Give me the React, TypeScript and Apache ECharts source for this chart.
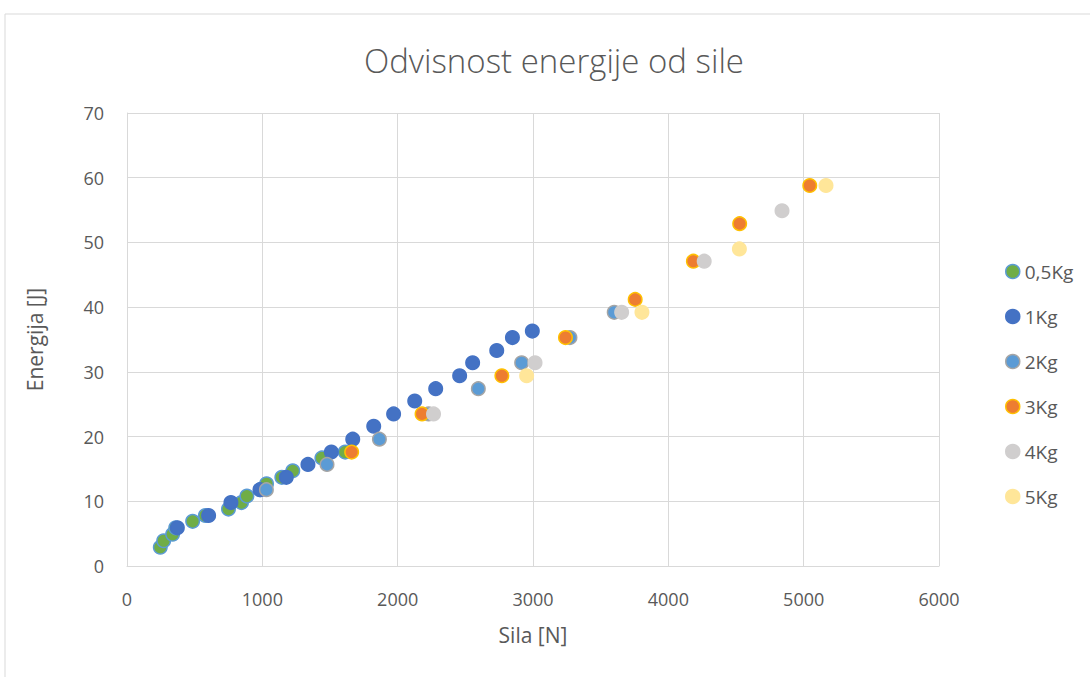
import React, { useEffect, useRef } from "react";
import * as echarts from "echarts";

const seriesNames = ["0,5Kg", "1Kg", "2Kg", "3Kg", "4Kg", "5Kg"];

const force05 = [246, 271, 337, 360, 485, 579, 750, 846, 886, 985, 1031, 1144, 1225, 1440, 1612];
const energy05 = [2.9, 3.9, 4.9, 5.9, 6.9, 7.8, 8.8, 9.8, 10.8, 11.8, 12.7, 13.7, 14.7, 16.7, 17.6];

const force1 = [372, 603, 768, 983, 1177, 1337, 1510, 1668, 1823, 1970, 2126, 2281, 2458, 2554, 2732, 2848, 2995];
const energy1 = [5.9, 7.8, 9.8, 11.8, 13.7, 15.7, 17.6, 19.6, 21.6, 23.5, 25.5, 27.4, 29.4, 31.4, 33.3, 35.3, 36.3];

const force2 = [1030, 1478, 1865, 2228, 2596, 2916, 3273, 3600];
const energy2 = [11.8, 15.7, 19.6, 23.5, 27.4, 31.4, 35.3, 39.2];

const force3 = [1660, 2180, 2770, 3240, 3755, 4185, 4527, 5045];
const energy3 = [17.6, 23.5, 29.4, 35.3, 41.2, 47.1, 52.9, 58.8];

const force4 = [2265, 3015, 3655, 4265, 4840];
const energy4 = [23.5, 31.4, 39.2, 47.1, 54.9];

const force5 = [2953, 3805, 4525, 5165];
const energy5 = [29.4, 39.2, 49.0, 58.8];

const allForces = [force05, force1, force2, force3, force4, force5];
const allEnergies = [energy05, energy1, energy2, energy3, energy4, energy5];

const fills = ["#70AD47", "#4472C4", "#5B9BD5", "#ED7D31", "#D0CECE", "#FFE699"];
const borders = ["#5B9BD5", "#4472C4", "#A5A5A5", "#FFC000", "#D0CECE", "#FFE699"];

const FONT = "'Open Sans', sans-serif";
const TEXT = "#595959";

export default function App() {
  const ref = useRef<HTMLDivElement>(null);
  useEffect(() => {
    document.body.style.margin = "0";
    const chart = echarts.init(ref.current!, null, { renderer: "svg" });
    const series = seriesNames.map((name, i) => ({
      name,
      type: "scatter",
      symbol: "circle",
      symbolSize: 13.5,
      data: allForces[i].map((f, j) => [f, allEnergies[i][j]]),
      itemStyle: { color: fills[i], borderColor: borders[i], borderWidth: 1.5, opacity: 1 },
    }));
    chart.setOption({
      animation: false,
      backgroundColor: "#fff",
      textStyle: { fontFamily: FONT },
      graphic: [
        {
          type: "rect",
          shape: { x: 5, y: 14, width: 1200, height: 800 },
          style: { fill: "none", stroke: "#D9D9D9", lineWidth: 1 },
          silent: true,
          z: -10,
        },
        {
          type: "text",
          x: 554,
          y: 60,
          style: {
            text: "Odvisnost energije od sile",
            fontFamily: FONT,
            fontSize: 33,
            fontWeight: 300,
            fill: TEXT,
            textAlign: "center",
            textVerticalAlign: "middle",
          },
          silent: true,
        },
      ],
      legend: {
        orient: "vertical",
        left: 1000,
        top: 257,
        itemWidth: 14,
        itemHeight: 14,
        itemGap: 26,
        icon: "circle",
        textStyle: { fontFamily: FONT, fontSize: 19, lineHeight: 19, color: TEXT },
        data: seriesNames.map((n, i) => ({
          name: n,
          itemStyle: { color: fills[i], borderColor: borders[i], borderWidth: 1.5 },
        })),
      },
      grid: { left: 127, right: 151, top: 113, bottom: 111, containLabel: false },
      xAxis: {
        type: "value",
        min: 0,
        max: 6000,
        interval: 1000,
        name: "Sila [N]",
        nameLocation: "middle",
        nameGap: 58,
        nameTextStyle: { fontFamily: FONT, fontSize: 21, color: TEXT },
        axisLine: { show: true, lineStyle: { color: "#D9D9D9", width: 1 } },
        axisTick: { show: false },
        axisLabel: { fontFamily: FONT, fontSize: 18, color: TEXT, margin: 24, formatter: (v: number) => String(v) },
        splitLine: { show: true, lineStyle: { color: "#D9D9D9", width: 1 } },
      },
      yAxis: {
        type: "value",
        min: 0,
        max: 70,
        interval: 10,
        name: "Energija [J]",
        nameLocation: "middle",
        nameRotate: 90,
        nameGap: 82,
        nameTextStyle: { fontFamily: FONT, fontSize: 21, color: TEXT },
        axisLine: { show: true, lineStyle: { color: "#D9D9D9", width: 1 } },
        axisTick: { show: false },
        axisLabel: { fontFamily: FONT, fontSize: 18, color: TEXT, margin: 23, formatter: (v: number) => String(v) },
        splitLine: { show: true, lineStyle: { color: "#D9D9D9", width: 1 } },
      },
      series,
    });
    return () => chart.dispose();
  }, []);
  return <div ref={ref} style={{ width: 1090, height: 677 }} />;
}
